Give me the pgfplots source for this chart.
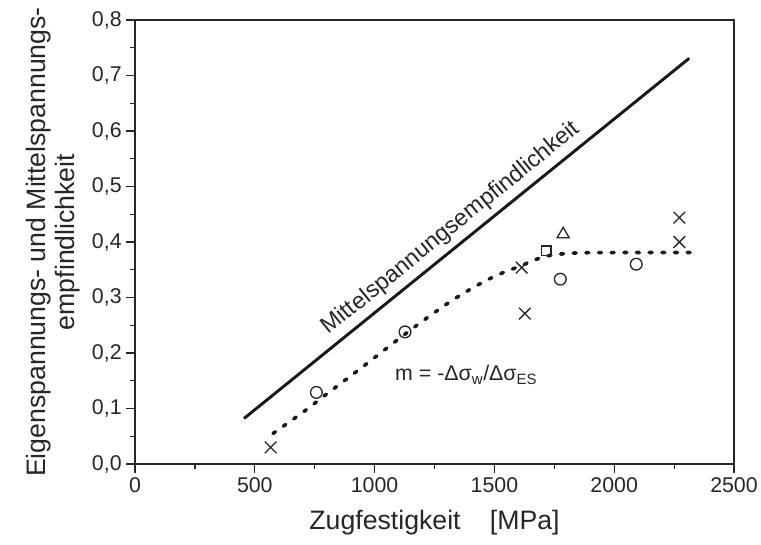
\documentclass[border=0pt]{standalone}
\usepackage{pgfplots}
\pgfplotsset{compat=1.18}
\usepackage{fontspec}
\setmainfont{Liberation Sans}
\begin{document}
\begin{tikzpicture}
\useasboundingbox (0,0) rectangle (570.75pt,408pt);
\begin{axis}[
  at={(101.25pt,60pt)}, anchor=south west,
  scale only axis, width=449.25pt, height=333pt,
  xmin=0, xmax=2500, ymin=0, ymax=0.8,
  xtick={0,500,...,2500}, ytick={0,0.1,0.2,0.3,0.4,0.5,0.6,0.7,0.8},
  minor x tick num=1, minor y tick num=1,
  tick align=outside,
  major tick length=6.5pt, minor tick length=3.5pt,
  xtick pos=bottom, ytick pos=left,
  axis line style={line width=1pt, black!85},
  tick style={black!85, line width=0.9pt},
  ticklabel style={font=\fontsize{16}{18}\selectfont, text=black!85},
  /pgf/number format/assume math mode=true,
  yticklabel style={/pgf/number format/.cd, fixed, fixed zerofill, precision=1, use comma},
  xticklabel style={/pgf/number format/1000 sep={}},
  xlabel={Zugfestigkeit\hspace{1.1em}[MPa]},
  xlabel style={at={(axis description cs:0.5,-0.1464)}, anchor=base, inner sep=0pt},
  ylabel={Eigenspannungs- und Mittelspannungs-\\empfindlichkeit},
  ylabel style={align=center, at={(axis description cs:-0.0918,0.5)}, anchor=south, inner sep=0pt},
  label style={font=\fontsize{20}{21.5}\selectfont, text=black!85},
  clip=false,
]
\addplot[black!90, line width=2.2pt] coordinates {(455,0.082) (2313,0.731)}
  node[pos=0.49, sloped, above, inner sep=4pt, font=\fontsize{17.5}{20}\selectfont, text=black!85] {Mittelspannungsempfindlichkeit};
\addplot[black!90, line width=2.7pt, line cap=round, dash pattern=on 2.2pt off 7.3pt, smooth, tension=0.5] coordinates {
(576,0.055) (700,0.093) (803,0.127) (950,0.175) (1139,0.238) (1300,0.288) (1408,0.317) (1510,0.340) (1610,0.357) (1711,0.374) (1829,0.380) (2000,0.381) (2325,0.381)};
\addplot[only marks, mark=x, mark size=6.2pt, mark options={line width=1pt, black!85}] coordinates {
(566,0.030) (1614,0.354) (1627,0.271) (2272,0.444) (2272,0.400)};
\addplot[only marks, mark=o, mark size=4.4pt, mark options={line width=1pt, black!85}] coordinates {
(757,0.129) (1127,0.238) (1775,0.333) (2092,0.360)};
\addplot[only marks, mark=square, mark size=3.7pt, mark options={line width=1pt, black!85}] coordinates {
(1716,0.384)};
\addplot[only marks, mark=triangle, mark size=5.2pt, mark options={line width=1pt, black!85}] coordinates {
(1787,0.414)};
\node[anchor=base west, inner sep=0pt, font=\fontsize{16}{18}\selectfont, text=black!85] at (axis cs:1085,0.150) {m = -Δσ\textsubscript{w}/Δσ\textsubscript{ES}};
\end{axis}
\end{tikzpicture}
\end{document}
